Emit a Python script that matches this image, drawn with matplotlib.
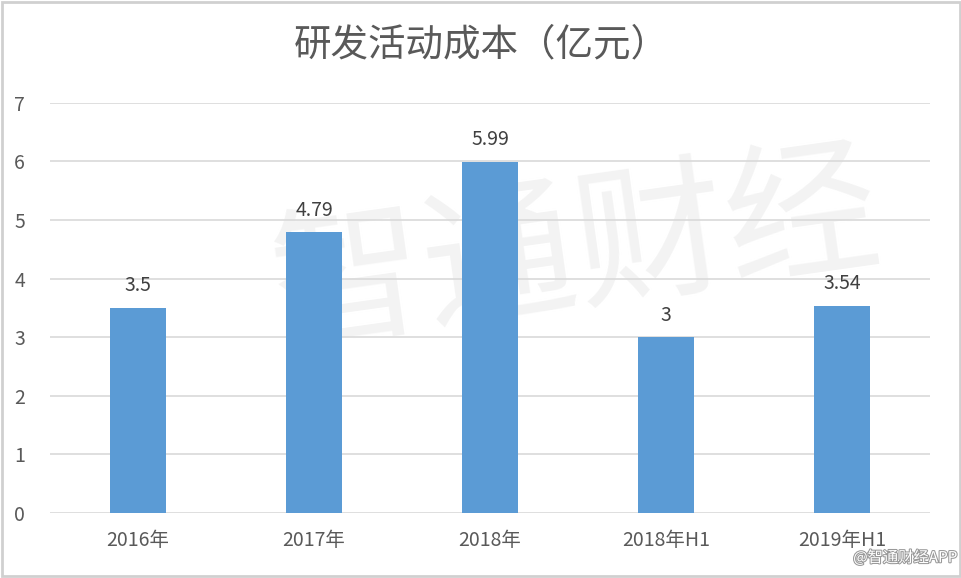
import matplotlib.pyplot as plt
import matplotlib.patches as mpatches
import matplotlib.patheffects as pe

plt.rcParams['font.family'] = ['Noto Sans CJK SC', 'DejaVu Sans']

# 数据
categories = ["2016年", "2017年", "2018年", "2018年H1", "2019年H1"]
values = [3.5, 4.79, 5.99, 3, 3.54]
labels = ["3.5", "4.79", "5.99", "3", "3.54"]

fig = plt.figure(figsize=(9.62, 5.78), dpi=100)
ax = fig.add_axes([0.052, 0.1125, 0.915, 0.7095])
ax.set_zorder(2)

# 水印（放在图表后面）
fig.text(0.6, 0.56, "智通财经", fontsize=110, color="#f3f3f3", ha="center", va="center",
         rotation=8, zorder=0)

x = range(len(categories))
ax.bar(x, values, width=0.32, color="#5b9bd5", zorder=3)
for i, v in enumerate(values):
    ax.text(i, v + 0.2, labels[i], ha="center", va="bottom", fontsize=14, color="#404040")

ax.set_xlim(-0.5, 4.5)
ax.set_ylim(0, 7)
ax.set_yticks(range(8))
ax.set_xticks(list(x))
ax.set_xticklabels(categories)
ax.tick_params(axis="both", length=0, labelsize=14, colors="#595959")
ax.tick_params(axis="x", pad=12)
ax.tick_params(axis="y", pad=18)
ax.yaxis.grid(True, color="#d9d9d9", linewidth=1.2, zorder=0)
for s in ax.spines.values():
    s.set_visible(False)
ax.set_facecolor("none")
ax.set_axisbelow(True)

fig.text(0.5, 0.922, "研发活动成本（亿元）", fontsize=27, color="#595959", ha="center", va="center")
fig.text(0.995, 0.035, "@智通财经APP", fontsize=11, color="#ffffff", ha="right", va="center",
         path_effects=[pe.withStroke(linewidth=1.5, foreground="#999999")], zorder=5)

# 外框
fig.patches.append(mpatches.Rectangle((0.002, 0.004), 0.996, 0.992, transform=fig.transFigure,
                                      fill=False, edgecolor="#d0d0d0", linewidth=2))

fig.savefig("out.png", dpi=100)
